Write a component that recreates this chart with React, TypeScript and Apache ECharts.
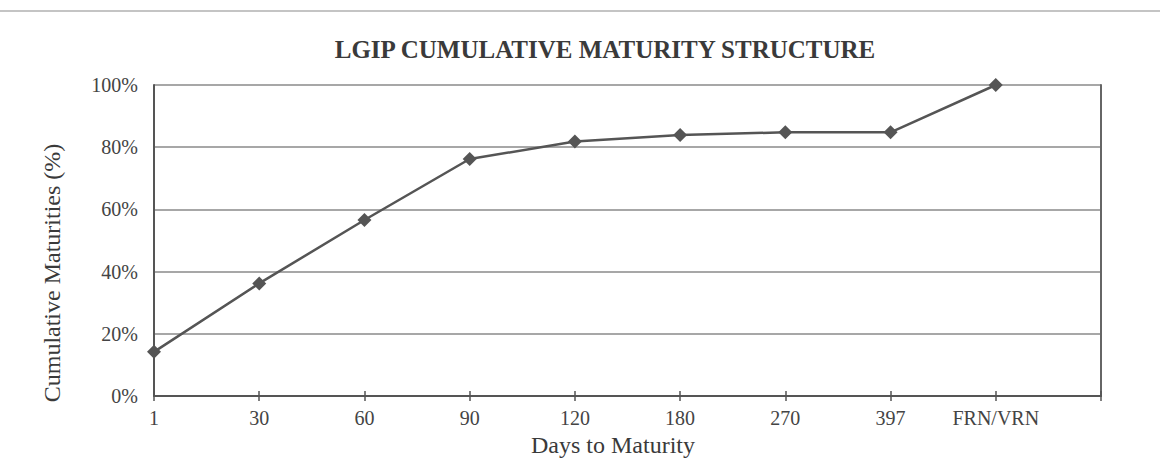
import React, { useEffect, useRef } from "react";
import * as echarts from "echarts";

const categories = ["1", "30", "60", "90", "120", "180", "270", "397", "FRN/VRN", ""];
const cumulative = [14.2, 36.2, 56.6, 76.2, 81.8, 83.9, 84.8, 84.8, 100];
const yTicks = { min: 0, max: 100, interval: 20 };
const titleText = "LGIP CUMULATIVE MATURITY STRUCTURE";
const xName = "Days to Maturity";
const yName = "Cumulative Maturities (%)";

const FONT = "'Liberation Serif', 'DejaVu Serif', serif";

export default function App() {
  const ref = useRef<HTMLDivElement>(null);
  useEffect(() => {
    if (!ref.current) return;
    const chart = echarts.init(ref.current, null, { renderer: "svg" });
    chart.setOption({
      animation: false,
      backgroundColor: "#ffffff",
      graphic: [
        {
          type: "line",
          shape: { x1: 0, y1: 11, x2: 1160, y2: 11 },
          style: { stroke: "#c4c4c4", lineWidth: 2 },
        },
        {
          type: "text",
          x: 605,
          y: 49,
          style: {
            text: titleText,
            font: `bold 25px ${FONT}`,
            fill: "#3a3a3a",
            textAlign: "center",
            textVerticalAlign: "middle",
          },
        },
        {
          type: "text",
          x: 613,
          y: 445,
          style: {
            text: xName,
            font: `24px ${FONT}`,
            fill: "#3a3a3a",
            textAlign: "center",
            textVerticalAlign: "middle",
          },
        },
        {
          type: "text",
          x: 52,
          y: 273,
          rotation: Math.PI / 2,
          style: {
            text: yName,
            font: `24px ${FONT}`,
            fill: "#3a3a3a",
            textAlign: "center",
            textVerticalAlign: "middle",
          },
        },
      ],
      grid: { left: 154, right: 59, top: 85, bottom: 74 },
      xAxis: [
        {
          type: "category",
          data: categories,
          boundaryGap: false,
          axisLine: { lineStyle: { color: "#555", width: 2 } },
          axisTick: { show: true, interval: 0, length: 5, lineStyle: { color: "#555", width: 1.5 } },
          axisLabel: { interval: 0, fontFamily: FONT, fontSize: 20, color: "#444", margin: 12 },
          splitLine: { show: false },
        },
        {
          type: "category",
          data: categories,
          boundaryGap: false,
          position: "bottom",
          axisLine: { show: false },
          axisTick: { show: true, inside: true, interval: 0, length: 5, lineStyle: { color: "#555", width: 1.5 } },
          axisLabel: { show: false },
          splitLine: { show: false },
        },
      ],
      yAxis: [
        {
          type: "value",
          min: yTicks.min,
          max: yTicks.max,
          interval: yTicks.interval,
          axisLine: { show: true, lineStyle: { color: "#555", width: 2 } },
          axisTick: { show: false },
          axisLabel: { formatter: "{value}%", fontFamily: FONT, fontSize: 20, color: "#444", margin: 16 },
          splitLine: { show: true, lineStyle: { color: "#8a8a8a", width: 1.5 } },
        },
        {
          type: "value",
          position: "right",
          min: yTicks.min,
          max: yTicks.max,
          interval: yTicks.interval,
          axisLine: { show: true, lineStyle: { color: "#666", width: 2 } },
          axisTick: { show: false },
          axisLabel: { show: false },
          splitLine: { show: false },
        },
      ],
      series: [
        {
          type: "line",
          data: cumulative,
          symbol: "diamond",
          symbolSize: 14,
          lineStyle: { color: "#555", width: 2.5 },
          itemStyle: { color: "#555" },
          z: 5,
        },
      ],
    });
    return () => chart.dispose();
  }, []);
  return (
    <div
      ref={ref}
      style={{ position: "fixed", left: 0, top: 0, width: 1160, height: 470 }}
    />
  );
}
